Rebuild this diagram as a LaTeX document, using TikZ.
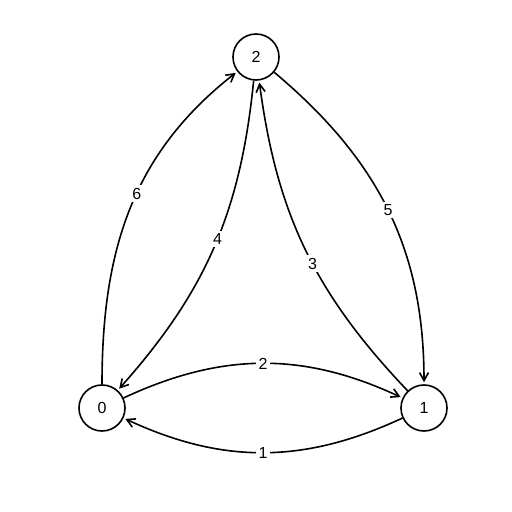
\documentclass[tikz,border=0pt]{standalone}
\usepackage{fontspec}
\setmainfont{Liberation Sans}
\usetikzlibrary{arrows.meta, positioning}

\begin{document}
\begin{tikzpicture}[
x=1pt, y=1pt,
vert/.style={draw,
circle,
line width=1.6pt,
minimum size=46pt,
inner sep=0pt,
font=\fontsize{16}{16}\selectfont},
arrow/.style={-{Straight Barb[length=8pt,width=9pt]}, line width=1.6pt, shorten >=2pt},
lbl/.style={fill=white, inner sep=2.5pt, font=\fontsize{16}{16}\selectfont}
]

\useasboundingbox (0,0) rectangle (512,512);

\node[vert] (vert2) at (256,455) {2};
\node[vert] (vert0) at (102,104) {0};
\node[vert] (vert1) at (424,104) {1};

\draw[arrow] (vert0) to[bend left=25] node[lbl] {2} (vert1);
\draw[arrow] (vert1) to[bend left=25] node[lbl] {1} (vert0);
\draw[arrow] (vert0) to[out=90, in=218] node[lbl, pos=0.55] {6} (vert2);
\draw[arrow] (vert2) to[bend left=18] node[lbl, pos=0.47] {4} (vert0);
\draw[arrow] (vert1) to[bend left=18] node[lbl, pos=0.45] {3} (vert2);
\draw[arrow] (vert2) to[out=-40, in=90] node[lbl] {5} (vert1);

\end{tikzpicture}
\end{document}
